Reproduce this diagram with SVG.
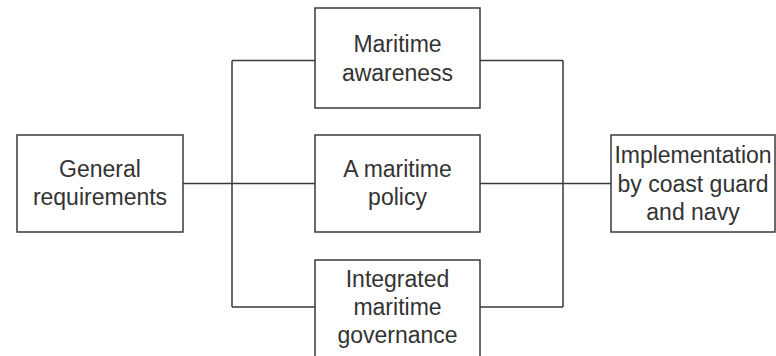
<svg xmlns="http://www.w3.org/2000/svg" width="776" height="356" viewBox="0 0 776 356">
<style>
.box{fill:#fff;stroke:#3a3a3a;stroke-width:1.5}
.ln{fill:none;stroke:#3a3a3a;stroke-width:1.5}
text{font-family:"Liberation Sans",Arial,sans-serif;font-size:23px;fill:#333;text-anchor:middle}
</style>
<rect width="776" height="356" fill="#fff"/>
<g id="connectors">
<path class="ln" d="M183 183.5H315M232 60.5V307M232 60.5H315M232 307H315"/>
<path class="ln" d="M480 183.5H611M563 60.5V307M480 60.5H563M480 307H563"/>
</g>
<g id="general">
<rect class="box" x="17" y="135" width="166" height="97"/>
<text x="100" y="177">General</text>
<text x="100" y="205">requirements</text>
</g>
<g id="awareness">
<rect class="box" x="315" y="8" width="165" height="100"/>
<text x="397.5" y="52">Maritime</text>
<text x="397.5" y="81">awareness</text>
</g>
<g id="policy">
<rect class="box" x="315" y="135" width="165" height="97"/>
<text x="397.5" y="177">A maritime</text>
<text x="397.5" y="205">policy</text>
</g>
<g id="governance">
<rect class="box" x="315" y="260" width="165" height="110"/>
<text x="397.5" y="287">Integrated</text>
<text x="397.5" y="315">maritime</text>
<text x="397.5" y="343">governance</text>
</g>
<g id="implementation">
<rect class="box" x="611" y="135" width="164" height="97"/>
<text x="693" y="163">Implementation</text>
<text x="693" y="191.5">by coast guard</text>
<text x="693" y="220">and navy</text>
</g>
</svg>
